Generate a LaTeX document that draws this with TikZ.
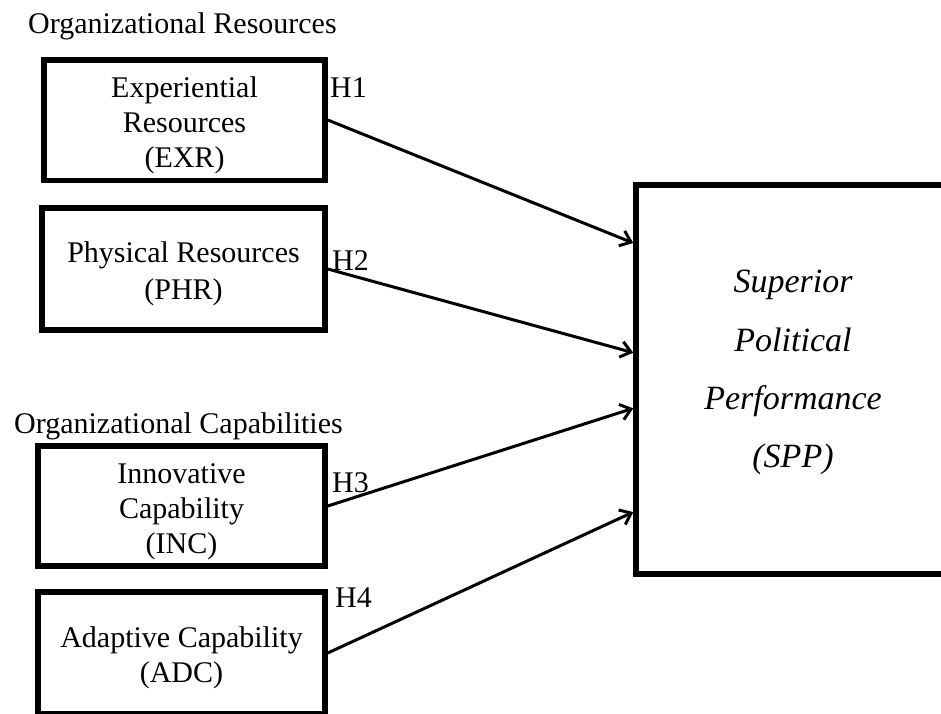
\documentclass[tikz,border=0pt]{standalone}
\usepackage{fontspec}
\setmainfont{Liberation Serif}
\usetikzlibrary{arrows.meta,calc}
% invisible struts that pad the first or last line of a box text
\newcommand\topgap{\rule{0pt}{31pt}}
\newcommand\botgap{\rule[-21pt]{0pt}{21pt}}
\begin{document}
\begin{tikzpicture}[x=1pt,y=-1pt,
  box/.style={draw,line width=5.5pt,rectangle,inner sep=0pt,align=center,
    font=\fontsize{30}{35}\selectfont},
  caption/.style={anchor=base west,inner sep=0pt,font=\fontsize{30}{34.5}\selectfont},
  hyp/.style={anchor=base west,inner sep=0pt,font=\fontsize{30}{34.5}\selectfont},
  link/.style={line width=3pt,-{Straight Barb[length=10pt,width=16pt]}}
]
\useasboundingbox (0,0) rectangle (941,713);

% group headings
\node[caption] (resources) at (28,33) {Organizational Resources};
\node[caption] (capabilities) at (14,433) {Organizational Capabilities};

% construct boxes
\node[box,minimum width=281pt,minimum height=120.5pt] (exr) at (184.5,120)
  {\topgap Experiential\\Resources\\(EXR)};
\node[box,minimum width=283pt,minimum height=122pt,
  font=\fontsize{30}{37}\selectfont] (phr) at (183.5,269)
  {\topgap Physical Resources\\(PHR)};
\node[box,minimum width=287pt,minimum height=120pt] (inc) at (181.5,506)
  {\topgap Innovative\\Capability\\(INC)};
\node[box,minimum width=287pt,minimum height=122pt] (adc) at (181.5,653)
  {\topgap Adaptive Capability\\(ADC)};
\node[box,minimum width=314pt,minimum height=389pt,
  font=\fontsize{34}{58.3}\selectfont\itshape] (spp) at (793,379.5)
  {Superior\\Political\\Performance\\(SPP)\botgap};

% hypothesis paths
\draw[link] (exr.east) -- ($(spp.north west)!0.154!(spp.south west)$);
\draw[link] (phr.east) -- ($(spp.north west)!0.432!(spp.south west)$);
\draw[link] (inc.east) -- ($(spp.north west)!0.573!(spp.south west)$);
\draw[link] (adc.east) -- ($(spp.north west)!0.836!(spp.south west)$);

% hypothesis labels
\node[hyp] (h1) at (330,97) {H1};
\node[hyp] (h2) at (332,270) {H2};
\node[hyp] (h3) at (332,492) {H3};
\node[hyp] (h4) at (335,607) {H4};
\end{tikzpicture}
\end{document}
